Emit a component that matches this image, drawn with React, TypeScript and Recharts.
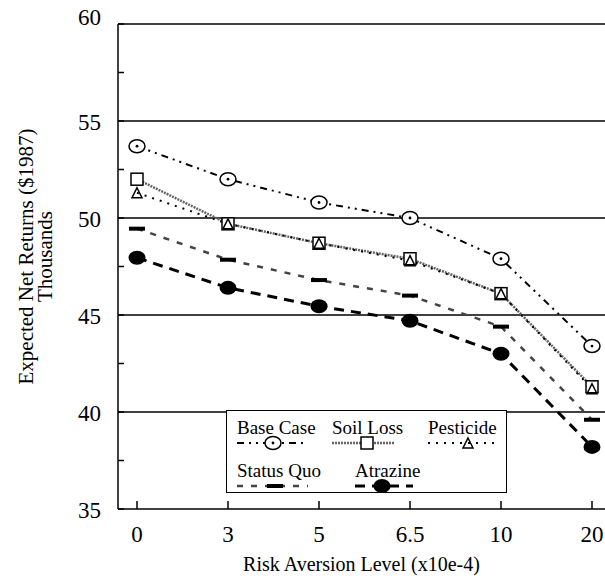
import React from "react";
import {
  LineChart,
  Line,
  XAxis,
  YAxis,
  ReferenceLine,
  Label,
} from "recharts";

const riskLevels = ["0", "3", "5", "6.5", "10", "20"];
const baseCase = [53.7, 52.0, 50.8, 50.0, 47.9, 43.4];
const soilLoss = [52.0, 49.7, 48.7, 47.9, 46.1, 41.3];
const pesticide = [51.3, 49.7, 48.7, 47.8, 46.1, 41.2];
const statusQuo = [49.45, 47.85, 46.8, 46.0, 44.4, 39.6];
const atrazine = [47.95, 46.4, 45.45, 44.7, 43.0, 38.2];

const yTicks = [35, 37.5, 40, 42.5, 45, 47.5, 50, 52.5, 55, 57.5, 60];
const gridValues = [40, 45, 50, 55, 60];

const FONT = "Liberation Serif, DejaVu Serif, serif";

const data = riskLevels.map((r, i) => ({
  risk: r,
  baseCase: baseCase[i],
  soilLoss: soilLoss[i],
  pesticide: pesticide[i],
  statusQuo: statusQuo[i],
  atrazine: atrazine[i],
}));

// marker shapes
const circleDot = (cx: number, cy: number) => (
  <g>
    <ellipse cx={cx} cy={cy} rx={8} ry={6.5} fill="#fff" stroke="#000" strokeWidth={1.5} />
    <circle cx={cx} cy={cy} r={1.4} fill="#000" />
  </g>
);
const square = (cx: number, cy: number) => (
  <rect x={cx - 6} y={cy - 6} width={12} height={12} fill="#fff" stroke="#000" strokeWidth={1.5} />
);
const triangle = (cx: number, cy: number) => (
  <path
    d={`M${cx},${cy - 5} L${cx + 5},${cy + 5} L${cx - 5},${cy + 5} Z`}
    fill="none"
    stroke="#000"
    strokeWidth={1.5}
  />
);
const bar = (cx: number, cy: number) => (
  <rect x={cx - 8} y={cy - 2} width={16} height={4} fill="#000" />
);
const blob = (cx: number, cy: number) => (
  <ellipse cx={cx} cy={cy} rx={8.5} ry={7} fill="#000" />
);

const series = [
  { key: "baseCase", name: "Base Case", color: "#000", width: 2, dash: "7 5 2 5 2 5", marker: circleDot },
  { key: "soilLoss", name: "Soil Loss", color: "#666", width: 2.5, dash: "2 1", marker: square },
  { key: "pesticide", name: "Pesticide", color: "#000", width: 2, dash: "2 6", marker: triangle },
  { key: "statusQuo", name: "Status Quo", color: "#444", width: 2.5, dash: "6 8", marker: bar },
  { key: "atrazine", name: "Atrazine", color: "#000", width: 3, dash: "10 7", marker: blob },
];

// legend layout, relative to the legend box
const legendPos: Record<string, { left: number; row: number; w: number; m: number }> = {
  baseCase: { left: 10, row: 0, w: 71, m: 36 },
  soilLoss: { left: 105, row: 0, w: 62, m: 35 },
  pesticide: { left: 201, row: 0, w: 68, m: 40 },
  statusQuo: { left: 10, row: 1, w: 71, m: 38 },
  atrazine: { left: 128, row: 1, w: 58, m: 27 },
};
const rowText = [7, 50];
const rowLine = [33, 76];

const LegendBox = () => (
  <div
    style={{
      position: "absolute",
      left: 226,
      top: 410,
      width: 281,
      height: 83,
      border: "1.5px solid #000",
      background: "#fff",
      boxSizing: "border-box",
      fontFamily: FONT,
      fontSize: 19,
    }}
  >
    {series.map((s) => {
      const p = legendPos[s.key];
      return (
        <React.Fragment key={s.key}>
          <div style={{ position: "absolute", left: p.left, top: rowText[p.row] - 1.5, lineHeight: "22px", whiteSpace: "nowrap" }}>
            {s.name}
          </div>
          <svg
            width={p.w}
            height={16}
            style={{ position: "absolute", left: p.left, top: rowLine[p.row] - 8 - 1.5 }}
          >
            <line x1={0} y1={8} x2={p.w} y2={8} stroke={s.color} strokeWidth={s.width} strokeDasharray={s.dash} />
            {s.marker(p.m, 8)}
          </svg>
        </React.Fragment>
      );
    })}
  </div>
);

const YTick = (props: any) => {
  const { x, y, payload } = props;
  const v = payload.value;
  return (
    <g>
      <line x1={x} y1={y} x2={x + 6} y2={y} stroke="#000" strokeWidth={1.5} />
      {Number.isInteger(v) && (
        <text
          x={x - 17}
          y={v === 60 ? y - 7 : y + 1}
          textAnchor="end"
          dominantBaseline="central"
          fontFamily={FONT}
          fontSize={23}
          fill="#000"
        >
          {v}
        </text>
      )}
    </g>
  );
};

const XTick = (props: any) => {
  const { x, y, payload } = props;
  return (
    <g>
      <line x1={x} y1={y} x2={x} y2={y - 8} stroke="#000" strokeWidth={1.5} />
      <text x={x} y={y + 25} textAnchor="middle" dominantBaseline="central" fontFamily={FONT} fontSize={23} fill="#000">
        {payload.value}
      </text>
    </g>
  );
};

const YTitle = (props: any) => {
  const vb = props.viewBox;
  const cy = vb.y + vb.height / 2 - 10;
  return (
    <g fontFamily={FONT} fontSize={21} fill="#000" textAnchor="middle">
      <text x={26} y={cy} transform={`rotate(-90, 26, ${cy})`} dominantBaseline="central">
        Expected Net Returns ($1987)
      </text>
      <text x={45} y={cy} transform={`rotate(-90, 45, ${cy})`} dominantBaseline="central">
        Thousands
      </text>
    </g>
  );
};

export default function App() {
  return (
    <div style={{ position: "absolute", left: 0, top: 0, background: "#fff" }}>
      <LineChart width={605} height={581} data={data} margin={{ top: 24, right: 0, bottom: 42, left: 0 }}>
        <XAxis
          dataKey="risk"
          height={30}
          interval={0}
          padding={{ left: 19, right: 13 }}
          tickSize={0}
          tickMargin={0}
          tick={<XTick />}
          axisLine={{ stroke: "#000", strokeWidth: 1.5 }}
        >
          <Label
            value="Risk Aversion Level (x10e-4)"
            position="insideTop"
            offset={48}
            style={{ fontFamily: FONT, fontSize: 20, fill: "#000" }}
          />
        </XAxis>
        <YAxis
          width={118}
          domain={[35, 60]}
          ticks={yTicks}
          interval={0}
          tickSize={0}
          tickMargin={0}
          tick={<YTick />}
          axisLine={{ stroke: "#000", strokeWidth: 1.5 }}
        >
          <Label content={<YTitle />} />
        </YAxis>
        {gridValues.map((g) => (
          <ReferenceLine key={g} y={g} stroke="#000" strokeWidth={1.5} />
        ))}
        {series.map((s) => (
          <Line
            key={s.key}
            dataKey={s.key}
            name={s.name}
            type="linear"
            stroke={s.color}
            strokeWidth={s.width}
            strokeDasharray={s.dash}
            dot={(p: any) => <g key={`${s.key}-${p.index}`}>{s.marker(p.cx, p.cy)}</g>}
            activeDot={false}
            isAnimationActive={false}
          />
        ))}
      </LineChart>
      <LegendBox />
    </div>
  );
}
